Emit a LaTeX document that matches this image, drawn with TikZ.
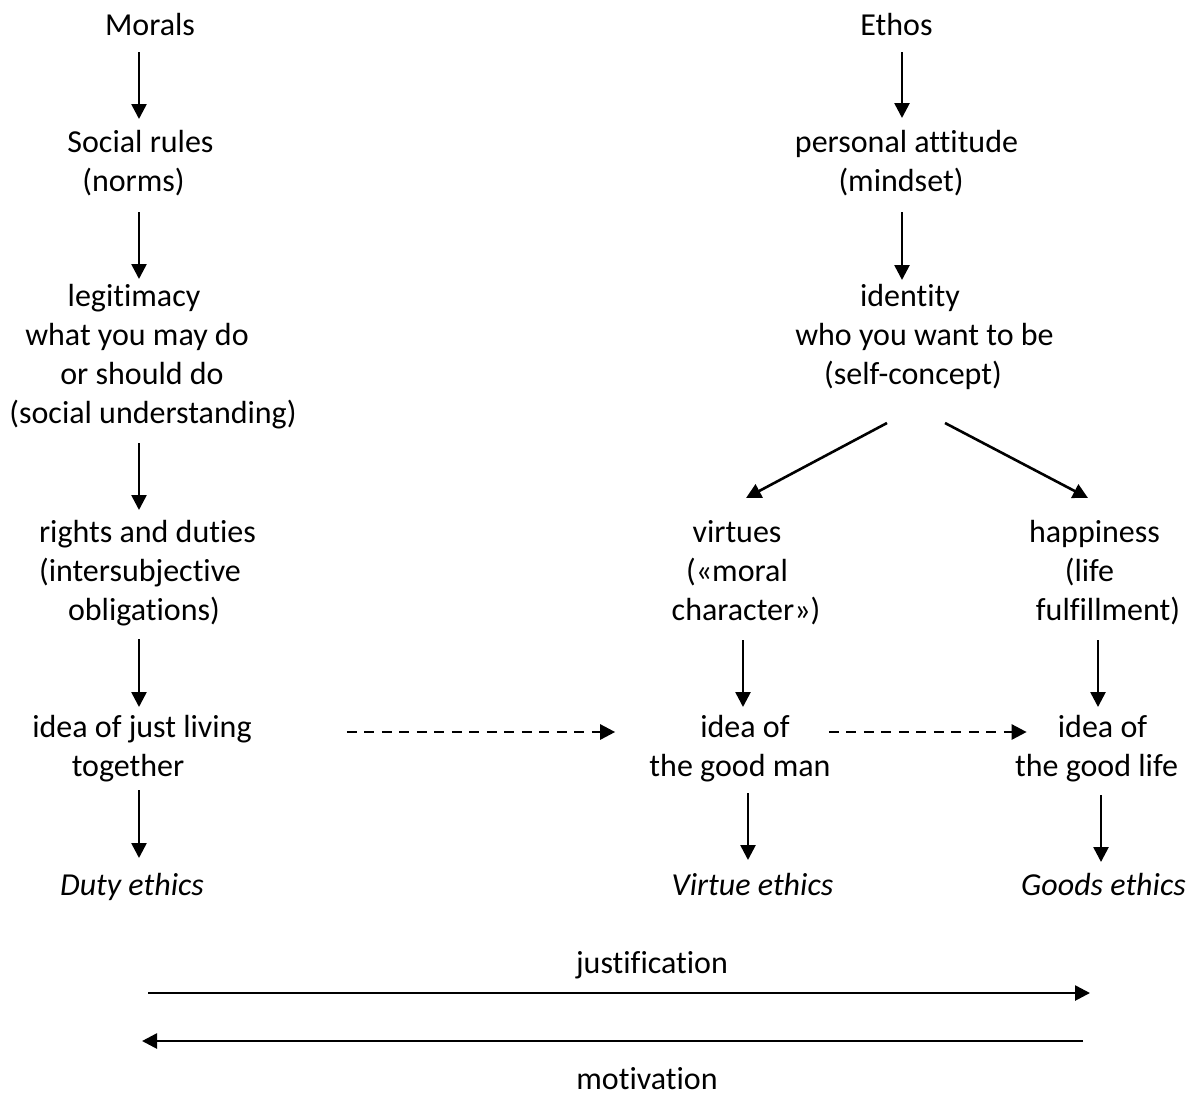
\documentclass[tikz,border=0pt]{standalone}
\usepackage{fontspec}
\setmainfont{Carlito}[Ligatures=NoCommon]
\usetikzlibrary{arrows.meta,calc}
\begin{document}
\begin{tikzpicture}[x=1pt,y=-1pt,
  txt/.style={inner sep=0pt, anchor=base, font=\fontsize{32}{39}\selectfont},
  itxt/.style={txt, font=\fontsize{32}{39}\selectfont\itshape},
  arr/.style={line width=2.6pt, -{Triangle[length=15pt,width=15pt]}},
  dsh/.style={arr, dash pattern=on 10pt off 7.5pt}]
\useasboundingbox (0,0) rectangle (1190,1093);
% column coordinates for vertical connectors
\coordinate (aL) at (139,0);
\coordinate (aR) at (902,0);
\coordinate (aV1) at (743,0);
\coordinate (aV2) at (748,0);
\coordinate (aH1) at (1098,0);
\coordinate (aH2) at (1101,0);
% left column
\node[txt] (morals) at (150,35) {Morals};
\node[txt] (soc1) at (140.5,152) {Social rules};
\node[txt] (soc2) at (133.5,191) {(norms)};
\node[txt] (leg1) at (134,306) {legitimacy};
\node[txt] (leg2) at (137,345) {what you may do};
\node[txt] (leg3) at (142,384) {or should do};
\node[txt] (leg4) at (153,423) {(social understanding)};
\node[txt] (rd1) at (147.5,542) {rights and duties};
\node[txt] (rd2) at (140,581) {(intersubjective};
\node[txt] (rd3) at (144,620) {obligations)};
\node[txt] (jl1) at (142,737) {idea of just living};
\node[txt] (jl2) at (128,776) {together};
\node[itxt] (duty) at (132,895) {Duty ethics};
% right column
\node[txt] (ethos) at (896.5,35) {Ethos};
\node[txt] (pa1) at (906.5,152) {personal attitude};
\node[txt] (pa2) at (901,191) {(mindset)};
\node[txt] (id1) at (910,306) {identity};
\node[txt] (id2) at (924.5,345) {who you want to be};
\node[txt] (id3) at (913,384) {(self-concept)};
\node[txt] (v1) at (737,542) {virtues};
\node[txt] (v2) at (737,581) {(«moral};
\node[txt] (v3) at (746,620) {character»)};
\node[txt] (h1) at (1094.5,542) {happiness};
\node[txt] (h2) at (1089.5,581) {(life};
\node[txt] (h3) at (1108,620) {fulfillment)};
\node[txt] (gm1) at (745,737) {idea of};
\node[txt] (gm2) at (740,776) {the good man};
\node[txt] (gl1) at (1102.5,737) {idea of};
\node[txt] (gl2) at (1096.5,776) {the good life};
\node[itxt] (ve) at (752.5,895) {Virtue ethics};
\node[itxt] (ge) at (1103.5,895) {Goods ethics};
% bottom
\node[txt] (just) at (652,973) {justification};
\node[txt] (motiv) at (647,1089) {motivation};
% left connectors
\draw[arr] ($(morals.base -| aL)+(0,17)$) -- ($(soc1.base -| aL)+(0,-33)$);
\draw[arr] ($(soc2.base -| aL)+(0,21)$) -- ($(leg1.base -| aL)+(0,-27)$);
\draw[arr] ($(leg4.base -| aL)+(0,20)$) -- ($(rd1.base -| aL)+(0,-32)$);
\draw[arr] ($(rd3.base -| aL)+(0,19)$) -- ($(jl1.base -| aL)+(0,-30)$);
\draw[arr] ($(jl2.base -| aL)+(0,14)$) -- ($(duty.base -| aL)+(0,-37)$);
% right connectors
\draw[arr] ($(ethos.base -| aR)+(0,17)$) -- ($(pa1.base -| aR)+(0,-34)$);
\draw[arr] ($(pa2.base -| aR)+(0,21)$) -- ($(id1.base -| aR)+(0,-26)$);
\draw[arr] ($(id3.base)+(-26,39)$) -- ($(v1.base)+(9,-44)$);
\draw[arr] ($(id3.base)+(32,39)$) -- ($(h1.base)+(-6.5,-44)$);
\draw[arr] ($(v3.base -| aV1)+(0,20)$) -- ($(gm1.base -| aV1)+(0,-30)$);
\draw[arr] ($(h3.base -| aH1)+(0,20)$) -- ($(gl1.base -| aH1)+(0,-30)$);
\draw[arr] ($(gm2.base -| aV2)+(0,17)$) -- ($(ve.base -| aV2)+(0,-35)$);
\draw[arr] ($(gl2.base -| aH2)+(0,19)$) -- ($(ge.base -| aH2)+(0,-33)$);
% dashed connectors
\draw[dsh] ($(jl1.base east)+(95,-5)$) -- ($(gm1.base west)+(-85,-5)$);
\draw[dsh] ($(gm1.base east)+(39,-5)$) -- ($(gl1.base west)+(-31,-5)$);
% bottom arrows
\draw[arr] ($(just.base)+(-504,20)$) -- ($(just.base)+(438,20)$);
\draw[arr] ($(motiv.base)+(436,-48)$) -- ($(motiv.base)+(-505,-48)$);
\end{tikzpicture}
\end{document}
